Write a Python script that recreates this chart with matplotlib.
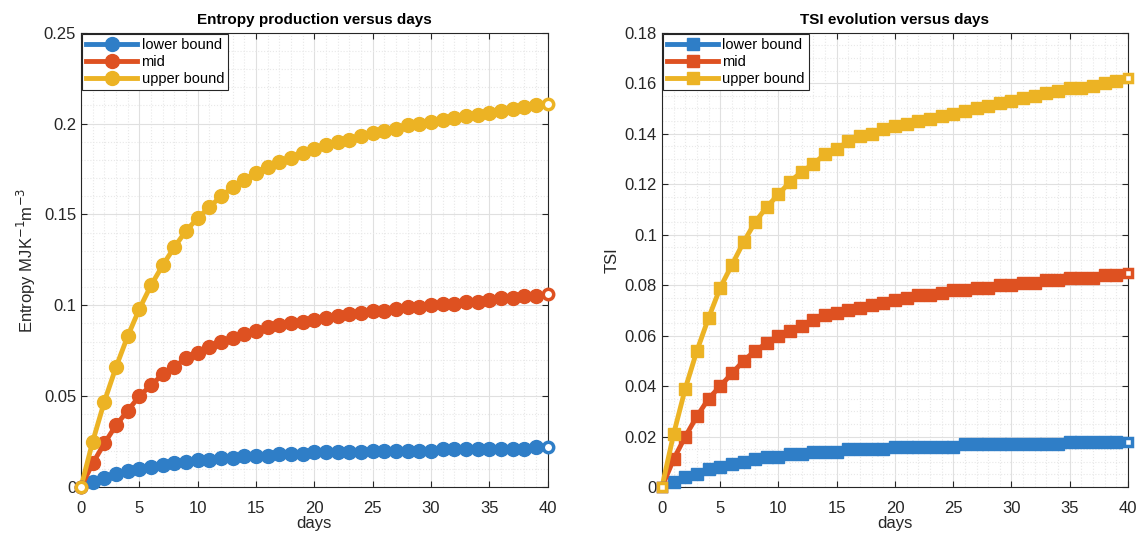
import numpy as np
import matplotlib
matplotlib.use('Agg')
from matplotlib import pyplot as plt
from matplotlib.ticker import MultipleLocator, FormatStrFormatter

plt.rcParams['font.family'] = ['Liberation Sans', 'DejaVu Sans']

days = np.arange(0, 41)

# entropy production [MJ K^-1 m^-3]
entropy_lower = [0, 0.003, 0.005, 0.007, 0.009, 0.010, 0.011, 0.012, 0.013, 0.014, 0.015,
                 0.015, 0.016, 0.016, 0.017, 0.017, 0.017, 0.018, 0.018, 0.018, 0.019,
                 0.019, 0.019, 0.019, 0.019, 0.020, 0.020, 0.020, 0.020, 0.020, 0.020,
                 0.021, 0.021, 0.021, 0.021, 0.021, 0.021, 0.021, 0.021, 0.022, 0.022]
entropy_mid = [0, 0.013, 0.024, 0.034, 0.042, 0.050, 0.056, 0.062, 0.066, 0.071, 0.074,
               0.077, 0.080, 0.082, 0.084, 0.086, 0.088, 0.089, 0.090, 0.091, 0.092,
               0.093, 0.094, 0.095, 0.096, 0.097, 0.097, 0.098, 0.099, 0.099, 0.100,
               0.101, 0.101, 0.102, 0.102, 0.103, 0.104, 0.104, 0.105, 0.105, 0.106]
entropy_upper = [0, 0.025, 0.047, 0.066, 0.083, 0.098, 0.111, 0.122, 0.132, 0.141, 0.148,
                 0.154, 0.160, 0.165, 0.169, 0.173, 0.176, 0.179, 0.181, 0.184, 0.186,
                 0.188, 0.190, 0.191, 0.193, 0.195, 0.196, 0.197, 0.199, 0.200, 0.201,
                 0.202, 0.203, 0.204, 0.205, 0.206, 0.207, 0.208, 0.209, 0.210, 0.211]

# TSI
tsi_lower = [0, 0.002, 0.004, 0.005, 0.007, 0.008, 0.009, 0.010, 0.011, 0.012, 0.012,
             0.013, 0.013, 0.014, 0.014, 0.014, 0.015, 0.015, 0.015, 0.015, 0.016,
             0.016, 0.016, 0.016, 0.016, 0.016, 0.017, 0.017, 0.017, 0.017, 0.017,
             0.017, 0.017, 0.017, 0.017, 0.018, 0.018, 0.018, 0.018, 0.018, 0.018]
tsi_mid = [0, 0.011, 0.020, 0.028, 0.035, 0.040, 0.045, 0.050, 0.054, 0.057, 0.060,
           0.062, 0.064, 0.066, 0.068, 0.069, 0.070, 0.071, 0.072, 0.073, 0.074,
           0.075, 0.076, 0.076, 0.077, 0.078, 0.078, 0.079, 0.079, 0.080, 0.080,
           0.081, 0.081, 0.082, 0.082, 0.083, 0.083, 0.083, 0.084, 0.084, 0.085]
tsi_upper = [0, 0.021, 0.039, 0.054, 0.067, 0.079, 0.088, 0.097, 0.105, 0.111, 0.116,
             0.121, 0.125, 0.128, 0.132, 0.134, 0.137, 0.139, 0.140, 0.142, 0.143,
             0.144, 0.145, 0.146, 0.147, 0.148, 0.149, 0.150, 0.151, 0.152, 0.153,
             0.154, 0.155, 0.156, 0.157, 0.158, 0.158, 0.159, 0.160, 0.161, 0.162]

labels = ['lower bound', 'mid', 'upper bound']
colors = ['#2f7ec7', '#de5121', '#ecb324']


def draw_panel(ax, series, marker, msize, title, ylabel, ymax, ystep, yminor):
    for values, label, color in zip(series, labels, colors):
        ax.plot(days, values, color=color, linewidth=3.5, marker=marker,
                markersize=msize, markevery=list(range(1, len(days) - 1)),
                label=label, zorder=3, clip_on=False)
        # end markers are drawn hollow
        ax.plot(days[[0, -1]], np.array(values)[[0, -1]], linestyle='none',
                marker=marker, markersize=msize * 0.75, markerfacecolor='white',
                markeredgecolor=color, markeredgewidth=2.5, zorder=4, clip_on=False)

    ax.set_xlim(0, 40)
    ax.set_ylim(0, ymax)
    ax.xaxis.set_major_locator(MultipleLocator(5))
    ax.xaxis.set_minor_locator(MultipleLocator(1))
    ax.yaxis.set_major_locator(MultipleLocator(ystep))
    ax.yaxis.set_minor_locator(MultipleLocator(yminor))
    ax.yaxis.set_major_formatter(FormatStrFormatter('%g'))
    ax.grid(which='major', color='#e0e0e0', linewidth=0.8)
    ax.grid(which='minor', color='#e8e8e8', linestyle=':', linewidth=0.8)
    ax.set_axisbelow(True)
    ax.tick_params(which='both', direction='in', top=True, right=True,
                   labelsize=12, colors='#262626', length=4)
    ax.tick_params(axis='x', pad=10)
    ax.tick_params(which='minor', length=0)
    for spine in ax.spines.values():
        spine.set_color('#262626')
        spine.set_linewidth(0.8)

    ax.set_title(title, fontsize=11, fontweight='bold', pad=6)
    ax.set_xlabel('days', fontsize=12, color='#262626', labelpad=0)
    ax.set_ylabel(ylabel, fontsize=12, color='#262626')
    leg = ax.legend(loc='upper left', fontsize=10.5, handlelength=3.5,
                    borderaxespad=0.05, fancybox=False, framealpha=1,
                    borderpad=0.3, labelspacing=0.2, handletextpad=0.3)
    leg.get_frame().set_edgecolor('#262626')
    leg.get_frame().set_linewidth(0.8)


fig = plt.figure(figsize=(11.38, 5.35), dpi=100)
ax1 = fig.add_axes([0.0712, 0.0897, 0.410, 0.849])
ax2 = fig.add_axes([0.5817, 0.0897, 0.4095, 0.849])

draw_panel(ax1, [entropy_lower, entropy_mid, entropy_upper], 'o', 10,
           'Entropy production versus days', r'Entropy MJK$^{-1}$m$^{-3}$',
           0.25, 0.05, 0.01)
draw_panel(ax2, [tsi_lower, tsi_mid, tsi_upper], 's', 8,
           'TSI evolution versus days', 'TSI', 0.18, 0.02, 0.005)

fig.savefig('out.png', dpi=100)
